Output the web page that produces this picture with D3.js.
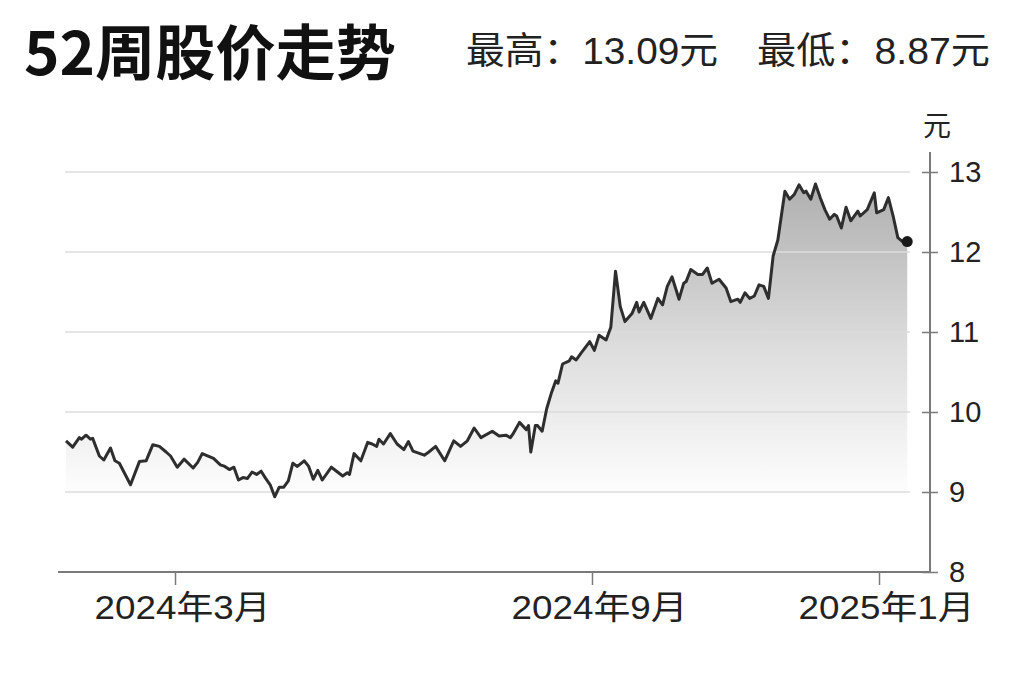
<!DOCTYPE html>
<html>
<head>
<meta charset="utf-8">
<script src="https://cdn.jsdelivr.net/npm/d3@7"></script>
<style>
	body { margin: 0; background: #fff; }
	svg { display: block; }
	.title { font-family: "Noto Sans CJK SC", sans-serif; font-weight: 700; fill: #111; }
	.stat, .tick-label, .unit { font-family: "Liberation Sans", "Noto Sans CJK SC", sans-serif; fill: #222; }
</style>
</head>
<body>
<svg id="chart" width="1024" height="682"></svg>
<script>
const title = "52周股价走势"
const highPrice = 13.09
const lowPrice = 8.87
const unit = "元"

const dates = [
	"2024-01-12","2024-01-15","2024-01-18","2024-01-19","2024-01-21","2024-01-23","2024-01-24","2024-01-27","2024-01-29",
	"2024-02-01","2024-02-03","2024-02-05","2024-02-10","2024-02-14","2024-02-17","2024-02-20","2024-02-23","2024-02-26","2024-02-28",
	"2024-03-02","2024-03-05","2024-03-09","2024-03-11","2024-03-13","2024-03-18","2024-03-21","2024-03-23","2024-03-25","2024-03-27","2024-03-29","2024-03-31",
	"2024-04-02","2024-04-04","2024-04-06","2024-04-08","2024-04-10","2024-04-12","2024-04-14","2024-04-16","2024-04-18","2024-04-20","2024-04-22","2024-04-24","2024-04-27","2024-04-29",
	"2024-05-01","2024-05-03","2024-05-05","2024-05-09","2024-05-14","2024-05-16","2024-05-17","2024-05-19","2024-05-22","2024-05-25","2024-05-27","2024-05-29","2024-05-30",
	"2024-06-01","2024-06-04","2024-06-07","2024-06-10","2024-06-12","2024-06-14","2024-06-19","2024-06-21","2024-06-24","2024-06-28",
	"2024-07-02","2024-07-05","2024-07-08","2024-07-11","2024-07-14","2024-07-19","2024-07-22","2024-07-25","2024-07-27","2024-07-28","2024-07-31",
	"2024-08-03","2024-08-04","2024-08-05","2024-08-07","2024-08-08","2024-08-10","2024-08-12","2024-08-14","2024-08-16","2024-08-17","2024-08-19","2024-08-22","2024-08-23","2024-08-25","2024-08-27","2024-08-31",
	"2024-09-02","2024-09-04","2024-09-07","2024-09-09","2024-09-11","2024-09-13","2024-09-15","2024-09-18","2024-09-20","2024-09-21","2024-09-23","2024-09-26","2024-09-29",
	"2024-10-01","2024-10-03","2024-10-05","2024-10-08","2024-10-10","2024-10-11","2024-10-13","2024-10-16","2024-10-18","2024-10-20","2024-10-22","2024-10-25","2024-10-28","2024-10-30",
	"2024-11-02","2024-11-03","2024-11-05","2024-11-07","2024-11-09","2024-11-11","2024-11-13","2024-11-15","2024-11-17","2024-11-19","2024-11-22","2024-11-24","2024-11-26","2024-11-28","2024-11-30",
	"2024-12-01","2024-12-03","2024-12-05","2024-12-07","2024-12-09","2024-12-11","2024-12-13","2024-12-14","2024-12-16","2024-12-18","2024-12-20","2024-12-23","2024-12-24","2024-12-27","2024-12-30","2024-12-31",
	"2025-01-03","2025-01-05","2025-01-07","2025-01-09","2025-01-11","2025-01-13"
]

const prices = [
	9.64,9.56,9.68,9.66,9.71,9.66,9.67,9.45,9.40,
	9.55,9.39,9.36,9.09,9.38,9.39,9.59,9.57,9.50,9.45,
	9.31,9.41,9.30,9.37,9.48,9.42,9.34,9.32,9.28,9.31,9.15,9.18,
	9.17,9.25,9.22,9.26,9.17,9.09,8.94,9.06,9.06,9.14,9.36,9.32,9.39,9.32,
	9.16,9.27,9.15,9.31,9.20,9.24,9.22,9.48,9.39,9.62,9.60,9.57,9.66,
	9.60,9.73,9.60,9.53,9.63,9.51,9.46,9.50,9.57,9.39,
	9.64,9.57,9.64,9.80,9.68,9.76,9.70,9.71,9.68,9.72,9.87,
	9.78,9.83,9.50,9.83,9.83,9.76,10.04,10.23,10.39,10.36,10.60,10.64,10.69,10.65,10.73,10.88,
	10.77,10.96,10.90,11.06,11.76,11.32,11.13,11.23,11.37,11.25,11.37,11.17,11.42,
	11.34,11.57,11.69,11.41,11.61,11.63,11.78,11.72,11.72,11.80,11.61,11.66,11.55,11.38,
	11.41,11.37,11.49,11.42,11.45,11.59,11.57,11.42,11.95,12.15,12.76,12.66,12.72,12.84,12.74,
	12.76,12.66,12.85,12.68,12.53,12.41,12.47,12.45,12.30,12.56,12.39,12.51,12.45,12.53,12.74,12.49,
	12.53,12.68,12.45,12.18,12.13,12.13
]

const yTicks = [8, 9, 10, 11, 12, 13]
const xTicks = ["2024-03-01", "2024-09-01", "2025-01-01"]

const parse = d3.timeParse("%Y-%m-%d")
const data = dates.map((d, i) => ({ date: parse(d), price: prices[i] }))

const svg = d3.select("#chart")

// x: breakpoints so the month ticks land where the original puts them
let xScale = d3.scaleTime()
	.domain([parse("2024-01-12"), parse(xTicks[0]), parse(xTicks[1]), parse(xTicks[2])])
	.range([66, 175, 592, 879])

let yScale = d3.scaleLinear()
	.domain([8, 13])
	.range([572, 172])

const plotLeft = 65
const plotRight = 910
const axisX = 930

// header
svg.append("text")
	.attr("class", "title")
	.attr("x", 24)
	.attr("y", 75)
	.attr("font-size", 60)
	.attr("textLength", 372)
	.attr("lengthAdjust", "spacingAndGlyphs")
	.text(title)

svg.append("text")
	.attr("class", "stat")
	.attr("x", 466)
	.attr("y", 64)
	.attr("font-size", 37)
	.attr("textLength", 252)
	.attr("lengthAdjust", "spacingAndGlyphs")
	.text("最高：" + highPrice.toFixed(2) + unit)

svg.append("text")
	.attr("class", "stat")
	.attr("x", 757)
	.attr("y", 64)
	.attr("font-size", 37)
	.attr("textLength", 233)
	.attr("lengthAdjust", "spacingAndGlyphs")
	.text("最低：" + lowPrice.toFixed(2) + unit)

// area gradient
const grad = svg.append("defs").append("linearGradient")
	.attr("id", "fade")
	.attr("gradientUnits", "userSpaceOnUse")
	.attr("x1", 0).attr("x2", 0)
	.attr("y1", yScale(13)).attr("y2", yScale(8.9))
grad.append("stop").attr("offset", 0).attr("stop-color", "#acacac")
grad.append("stop").attr("offset", 0.55).attr("stop-color", "#dedede")
grad.append("stop").attr("offset", 1).attr("stop-color", "#ffffff")

let area = d3.area()
	.x(d => xScale(d.date))
	.y0(yScale(8))
	.y1(d => yScale(d.price))

svg.append("path")
	.datum(data)
	.attr("fill", "url(#fade)")
	.attr("d", area)

// gridlines over the fill
svg.append("g")
	.selectAll("line")
	.data(yTicks.filter(d => d > 8))
	.enter()
		.append("line")
		.attr("x1", plotLeft)
		.attr("x2", plotRight)
		.attr("y1", d => yScale(d))
		.attr("y2", d => yScale(d))
		.attr("stroke", "#dcdcdc")
		.attr("stroke-width", 1.5)

let line = d3.line()
	.x(d => xScale(d.date))
	.y(d => yScale(d.price))

svg.append("path")
	.datum(data)
	.attr("fill", "none")
	.attr("stroke", "#2e2e2e")
	.attr("stroke-width", 3)
	.attr("stroke-linejoin", "round")
	.attr("d", line)

const last = data[data.length - 1]
svg.append("circle")
	.attr("cx", xScale(last.date))
	.attr("cy", yScale(last.price))
	.attr("r", 5.5)
	.attr("fill", "#1a1a1a")

// x axis
let xAxis = d3.axisBottom(xScale)
	.tickValues(xTicks.map(parse))
	.tickSize(13)
	.tickSizeOuter(0)
	.tickFormat(d3.timeFormat("%Y年%-m月"))

const xG = svg.append("g")
	.attr("transform", "translate(0," + yScale(8) + ")")
	.call(xAxis)

xG.select(".domain")
	.attr("d", "M58,0H" + axisX)
	.attr("stroke", "#7a7a7a")
	.attr("stroke-width", 2)
xG.selectAll(".tick line")
	.attr("stroke", "#7a7a7a")
	.attr("stroke-width", 1.5)
xG.selectAll(".tick text")
	.attr("class", "tick-label")
	.attr("font-size", 33)
	.attr("y", 24)
	.attr("dx", 7)
	.attr("dy", "0.71em")
	.attr("textLength", 176)
	.attr("lengthAdjust", "spacingAndGlyphs")

// y axis on the right
let yAxis = d3.axisRight(yScale)
	.tickValues(yTicks)
	.tickSize(8)
	.tickSizeOuter(0)
	.tickFormat(d3.format("d"))

const yG = svg.append("g")
	.attr("transform", "translate(" + axisX + ",0)")
	.call(yAxis)

yG.select(".domain")
	.attr("d", "M0,152V" + yScale(8))
	.attr("stroke", "#7a7a7a")
	.attr("stroke-width", 2)
yG.selectAll(".tick line")
	.attr("x1", -8)
	.attr("stroke", "#7a7a7a")
	.attr("stroke-width", 1.5)
yG.selectAll(".tick text")
	.attr("class", "tick-label")
	.attr("font-size", 29)
	.attr("x", 19)

svg.append("text")
	.attr("class", "unit")
	.attr("x", axisX + 7)
	.attr("y", 136)
	.attr("font-size", 28)
	.attr("text-anchor", "middle")
	.text(unit)

yG.attr("font-family", null)
xG.attr("font-family", null)
</script>
</body>
</html>
